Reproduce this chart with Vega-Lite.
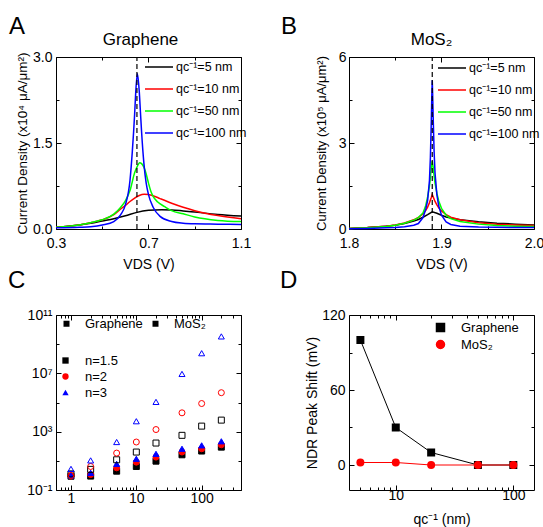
{
  "$schema": "https://vega.github.io/schema/vega-lite/v6.json",
  "padding": {"left": 8, "top": 14, "right": 5, "bottom": 3},
  "config": {
    "font": "Liberation Sans",
    "view": {"stroke": null},
    "axis": {"domainColor": "#000", "domainWidth": 1, "tickColor": "#000", "tickWidth": 1, "labelColor": "#000", "labelFontSize": 14, "labelFont": "Liberation Sans", "titleFont": "Liberation Sans", "titleFontSize": 14, "titleFontWeight": "normal", "titleColor": "#000", "grid": false, "labelFlush": false, "labelOverlap": false, "labelBound": false},
    "title": {"fontSize": 24, "fontWeight": "normal", "font": "Liberation Sans", "anchor": "start", "frame": "group", "color": "#000"},
    "legend": {"labelFont": "Liberation Sans", "labelColor": "#000"}
  },
  "resolve": {
    "scale": {"color": "independent", "fill": "independent", "stroke": "independent", "shape": "independent", "opacity": "independent"},
    "legend": {"color": "independent", "fill": "independent", "stroke": "independent", "shape": "independent", "opacity": "independent"}
  },
  "datasets": {
    "graphene": [
      {"qc": "5", "vds": 0.30, "j": 0.03}, {"qc": "5", "vds": 0.40, "j": 0.07}, {"qc": "5", "vds": 0.45, "j": 0.10}, {"qc": "5", "vds": 0.50, "j": 0.14}, {"qc": "5", "vds": 0.55, "j": 0.18}, {"qc": "5", "vds": 0.60, "j": 0.23}, {"qc": "5", "vds": 0.65, "j": 0.29}, {"qc": "5", "vds": 0.70, "j": 0.325}, {"qc": "5", "vds": 0.757, "j": 0.337}, {"qc": "5", "vds": 0.80, "j": 0.333}, {"qc": "5", "vds": 0.85, "j": 0.315}, {"qc": "5", "vds": 0.90, "j": 0.295}, {"qc": "5", "vds": 1.00, "j": 0.255}, {"qc": "5", "vds": 1.10, "j": 0.225},
      {"qc": "10", "vds": 0.30, "j": 0.03}, {"qc": "10", "vds": 0.40, "j": 0.07}, {"qc": "10", "vds": 0.45, "j": 0.11}, {"qc": "10", "vds": 0.50, "j": 0.16}, {"qc": "10", "vds": 0.55, "j": 0.25}, {"qc": "10", "vds": 0.58, "j": 0.35}, {"qc": "10", "vds": 0.60, "j": 0.41}, {"qc": "10", "vds": 0.62, "j": 0.48}, {"qc": "10", "vds": 0.64, "j": 0.54}, {"qc": "10", "vds": 0.66, "j": 0.585}, {"qc": "10", "vds": 0.681, "j": 0.605}, {"qc": "10", "vds": 0.70, "j": 0.60}, {"qc": "10", "vds": 0.72, "j": 0.58}, {"qc": "10", "vds": 0.75, "j": 0.53}, {"qc": "10", "vds": 0.80, "j": 0.45}, {"qc": "10", "vds": 0.85, "j": 0.38}, {"qc": "10", "vds": 0.90, "j": 0.32}, {"qc": "10", "vds": 1.00, "j": 0.235}, {"qc": "10", "vds": 1.10, "j": 0.18},
      {"qc": "50", "vds": 0.30, "j": 0.03}, {"qc": "50", "vds": 0.40, "j": 0.07}, {"qc": "50", "vds": 0.45, "j": 0.11}, {"qc": "50", "vds": 0.50, "j": 0.16}, {"qc": "50", "vds": 0.55, "j": 0.26}, {"qc": "50", "vds": 0.58, "j": 0.38}, {"qc": "50", "vds": 0.60, "j": 0.49}, {"qc": "50", "vds": 0.62, "j": 0.67}, {"qc": "50", "vds": 0.64, "j": 0.98}, {"qc": "50", "vds": 0.65, "j": 1.08}, {"qc": "50", "vds": 0.662, "j": 1.157}, {"qc": "50", "vds": 0.67, "j": 1.14}, {"qc": "50", "vds": 0.68, "j": 1.08}, {"qc": "50", "vds": 0.69, "j": 0.96}, {"qc": "50", "vds": 0.70, "j": 0.80}, {"qc": "50", "vds": 0.71, "j": 0.66}, {"qc": "50", "vds": 0.72, "j": 0.57}, {"qc": "50", "vds": 0.74, "j": 0.47}, {"qc": "50", "vds": 0.77, "j": 0.39}, {"qc": "50", "vds": 0.80, "j": 0.32}, {"qc": "50", "vds": 0.85, "j": 0.265}, {"qc": "50", "vds": 0.90, "j": 0.21}, {"qc": "50", "vds": 1.00, "j": 0.15}, {"qc": "50", "vds": 1.10, "j": 0.13},
      {"qc": "100", "vds": 0.30, "j": 0.02}, {"qc": "100", "vds": 0.40, "j": 0.03}, {"qc": "100", "vds": 0.45, "j": 0.04}, {"qc": "100", "vds": 0.50, "j": 0.07}, {"qc": "100", "vds": 0.55, "j": 0.13}, {"qc": "100", "vds": 0.58, "j": 0.25}, {"qc": "100", "vds": 0.60, "j": 0.42}, {"qc": "100", "vds": 0.62, "j": 0.85}, {"qc": "100", "vds": 0.63, "j": 1.35}, {"qc": "100", "vds": 0.64, "j": 2.0}, {"qc": "100", "vds": 0.645, "j": 2.4}, {"qc": "100", "vds": 0.652, "j": 2.71}, {"qc": "100", "vds": 0.66, "j": 2.4}, {"qc": "100", "vds": 0.665, "j": 2.05}, {"qc": "100", "vds": 0.67, "j": 1.7}, {"qc": "100", "vds": 0.68, "j": 1.15}, {"qc": "100", "vds": 0.69, "j": 0.8}, {"qc": "100", "vds": 0.70, "j": 0.6}, {"qc": "100", "vds": 0.72, "j": 0.38}, {"qc": "100", "vds": 0.75, "j": 0.22}, {"qc": "100", "vds": 0.80, "j": 0.13}, {"qc": "100", "vds": 0.85, "j": 0.10}, {"qc": "100", "vds": 0.90, "j": 0.09}, {"qc": "100", "vds": 1.00, "j": 0.085}, {"qc": "100", "vds": 1.10, "j": 0.08}
    ],
    "mos2": [
      {"qc": "5", "vds": 1.80, "j": 0.02}, {"qc": "5", "vds": 1.82, "j": 0.05}, {"qc": "5", "vds": 1.84, "j": 0.10}, {"qc": "5", "vds": 1.85, "j": 0.13}, {"qc": "5", "vds": 1.86, "j": 0.19}, {"qc": "5", "vds": 1.87, "j": 0.28}, {"qc": "5", "vds": 1.875, "j": 0.33}, {"qc": "5", "vds": 1.88, "j": 0.41}, {"qc": "5", "vds": 1.885, "j": 0.50}, {"qc": "5", "vds": 1.89, "j": 0.60}, {"qc": "5", "vds": 1.895, "j": 0.55}, {"qc": "5", "vds": 1.90, "j": 0.48}, {"qc": "5", "vds": 1.905, "j": 0.42}, {"qc": "5", "vds": 1.91, "j": 0.38}, {"qc": "5", "vds": 1.92, "j": 0.32}, {"qc": "5", "vds": 1.94, "j": 0.25}, {"qc": "5", "vds": 1.96, "j": 0.20}, {"qc": "5", "vds": 1.98, "j": 0.17}, {"qc": "5", "vds": 2.00, "j": 0.14},
      {"qc": "10", "vds": 1.80, "j": 0.02}, {"qc": "10", "vds": 1.82, "j": 0.05}, {"qc": "10", "vds": 1.84, "j": 0.10}, {"qc": "10", "vds": 1.85, "j": 0.14}, {"qc": "10", "vds": 1.86, "j": 0.21}, {"qc": "10", "vds": 1.87, "j": 0.32}, {"qc": "10", "vds": 1.875, "j": 0.40}, {"qc": "10", "vds": 1.88, "j": 0.53}, {"qc": "10", "vds": 1.883, "j": 0.65}, {"qc": "10", "vds": 1.885, "j": 0.76}, {"qc": "10", "vds": 1.887, "j": 0.92}, {"qc": "10", "vds": 1.889, "j": 1.10}, {"qc": "10", "vds": 1.89, "j": 1.21}, {"qc": "10", "vds": 1.891, "j": 1.12}, {"qc": "10", "vds": 1.893, "j": 0.96}, {"qc": "10", "vds": 1.895, "j": 0.84}, {"qc": "10", "vds": 1.897, "j": 0.74}, {"qc": "10", "vds": 1.90, "j": 0.63}, {"qc": "10", "vds": 1.905, "j": 0.50}, {"qc": "10", "vds": 1.91, "j": 0.41}, {"qc": "10", "vds": 1.92, "j": 0.32}, {"qc": "10", "vds": 1.94, "j": 0.22}, {"qc": "10", "vds": 1.96, "j": 0.17}, {"qc": "10", "vds": 1.98, "j": 0.14}, {"qc": "10", "vds": 2.00, "j": 0.12},
      {"qc": "50", "vds": 1.80, "j": 0.02}, {"qc": "50", "vds": 1.82, "j": 0.04}, {"qc": "50", "vds": 1.84, "j": 0.09}, {"qc": "50", "vds": 1.85, "j": 0.13}, {"qc": "50", "vds": 1.86, "j": 0.20}, {"qc": "50", "vds": 1.87, "j": 0.31}, {"qc": "50", "vds": 1.875, "j": 0.40}, {"qc": "50", "vds": 1.88, "j": 0.56}, {"qc": "50", "vds": 1.883, "j": 0.82}, {"qc": "50", "vds": 1.885, "j": 1.12}, {"qc": "50", "vds": 1.887, "j": 1.5}, {"qc": "50", "vds": 1.888, "j": 1.8}, {"qc": "50", "vds": 1.889, "j": 2.15}, {"qc": "50", "vds": 1.89, "j": 2.37}, {"qc": "50", "vds": 1.891, "j": 2.15}, {"qc": "50", "vds": 1.892, "j": 1.85}, {"qc": "50", "vds": 1.893, "j": 1.6}, {"qc": "50", "vds": 1.895, "j": 1.25}, {"qc": "50", "vds": 1.897, "j": 0.98}, {"qc": "50", "vds": 1.90, "j": 0.72}, {"qc": "50", "vds": 1.905, "j": 0.48}, {"qc": "50", "vds": 1.91, "j": 0.36}, {"qc": "50", "vds": 1.92, "j": 0.26}, {"qc": "50", "vds": 1.94, "j": 0.17}, {"qc": "50", "vds": 1.96, "j": 0.12}, {"qc": "50", "vds": 1.98, "j": 0.10}, {"qc": "50", "vds": 2.00, "j": 0.09},
      {"qc": "100", "vds": 1.80, "j": 0.01}, {"qc": "100", "vds": 1.82, "j": 0.02}, {"qc": "100", "vds": 1.84, "j": 0.04}, {"qc": "100", "vds": 1.85, "j": 0.05}, {"qc": "100", "vds": 1.86, "j": 0.08}, {"qc": "100", "vds": 1.87, "j": 0.13}, {"qc": "100", "vds": 1.875, "j": 0.19}, {"qc": "100", "vds": 1.88, "j": 0.40}, {"qc": "100", "vds": 1.883, "j": 0.70}, {"qc": "100", "vds": 1.885, "j": 1.0}, {"qc": "100", "vds": 1.887, "j": 1.7}, {"qc": "100", "vds": 1.888, "j": 2.5}, {"qc": "100", "vds": 1.889, "j": 3.8}, {"qc": "100", "vds": 1.8895, "j": 4.6}, {"qc": "100", "vds": 1.89, "j": 5.19}, {"qc": "100", "vds": 1.8905, "j": 4.6}, {"qc": "100", "vds": 1.891, "j": 3.9}, {"qc": "100", "vds": 1.892, "j": 2.7}, {"qc": "100", "vds": 1.893, "j": 1.95}, {"qc": "100", "vds": 1.895, "j": 1.2}, {"qc": "100", "vds": 1.897, "j": 0.8}, {"qc": "100", "vds": 1.90, "j": 0.48}, {"qc": "100", "vds": 1.905, "j": 0.25}, {"qc": "100", "vds": 1.91, "j": 0.16}, {"qc": "100", "vds": 1.92, "j": 0.10}, {"qc": "100", "vds": 1.94, "j": 0.07}, {"qc": "100", "vds": 1.96, "j": 0.06}, {"qc": "100", "vds": 1.98, "j": 0.05}, {"qc": "100", "vds": 2.00, "j": 0.05}
    ],
    "scaling": [
      {"mat": "Graphene", "n": "1.5", "x": 1, "y": 0.88}, {"mat": "Graphene", "n": "1.5", "x": 2, "y": 0.9}, {"mat": "Graphene", "n": "1.5", "x": 5, "y": 1.95}, {"mat": "Graphene", "n": "1.5", "x": 10, "y": 4.1}, {"mat": "Graphene", "n": "1.5", "x": 20, "y": 9.5}, {"mat": "Graphene", "n": "1.5", "x": 50, "y": 26}, {"mat": "Graphene", "n": "1.5", "x": 100, "y": 47}, {"mat": "Graphene", "n": "1.5", "x": 200, "y": 87},
      {"mat": "Graphene", "n": "2", "x": 1, "y": 0.9}, {"mat": "Graphene", "n": "2", "x": 2, "y": 1.15}, {"mat": "Graphene", "n": "2", "x": 5, "y": 3.3}, {"mat": "Graphene", "n": "2", "x": 10, "y": 8.1}, {"mat": "Graphene", "n": "2", "x": 20, "y": 18}, {"mat": "Graphene", "n": "2", "x": 50, "y": 40}, {"mat": "Graphene", "n": "2", "x": 100, "y": 67}, {"mat": "Graphene", "n": "2", "x": 200, "y": 126},
      {"mat": "Graphene", "n": "3", "x": 1, "y": 1.0}, {"mat": "Graphene", "n": "3", "x": 2, "y": 1.5}, {"mat": "Graphene", "n": "3", "x": 5, "y": 6.2}, {"mat": "Graphene", "n": "3", "x": 10, "y": 13.8}, {"mat": "Graphene", "n": "3", "x": 20, "y": 30}, {"mat": "Graphene", "n": "3", "x": 50, "y": 67}, {"mat": "Graphene", "n": "3", "x": 100, "y": 115}, {"mat": "Graphene", "n": "3", "x": 200, "y": 218},
      {"mat": "MoS₂", "n": "1.5", "x": 1, "y": 1.27}, {"mat": "MoS₂", "n": "1.5", "x": 2, "y": 2.6}, {"mat": "MoS₂", "n": "1.5", "x": 5, "y": 11.8}, {"mat": "MoS₂", "n": "1.5", "x": 10, "y": 40}, {"mat": "MoS₂", "n": "1.5", "x": 20, "y": 166}, {"mat": "MoS₂", "n": "1.5", "x": 50, "y": 560}, {"mat": "MoS₂", "n": "1.5", "x": 100, "y": 2400}, {"mat": "MoS₂", "n": "1.5", "x": 200, "y": 6200},
      {"mat": "MoS₂", "n": "2", "x": 1, "y": 1.0}, {"mat": "MoS₂", "n": "2", "x": 2, "y": 4.1}, {"mat": "MoS₂", "n": "2", "x": 5, "y": 34}, {"mat": "MoS₂", "n": "2", "x": 10, "y": 195}, {"mat": "MoS₂", "n": "2", "x": 20, "y": 1400}, {"mat": "MoS₂", "n": "2", "x": 50, "y": 19600}, {"mat": "MoS₂", "n": "2", "x": 100, "y": 85000}, {"mat": "MoS₂", "n": "2", "x": 200, "y": 470000},
      {"mat": "MoS₂", "n": "3", "x": 1, "y": 2.8}, {"mat": "MoS₂", "n": "3", "x": 2, "y": 10.7}, {"mat": "MoS₂", "n": "3", "x": 5, "y": 195}, {"mat": "MoS₂", "n": "3", "x": 10, "y": 5200}, {"mat": "MoS₂", "n": "3", "x": 20, "y": 110000}, {"mat": "MoS₂", "n": "3", "x": 50, "y": 9100000}, {"mat": "MoS₂", "n": "3", "x": 100, "y": 240000000}, {"mat": "MoS₂", "n": "3", "x": 200, "y": 3400000000}
    ],
    "shift": [
      {"mat": "Graphene", "q": 5, "shift": 100}, {"mat": "Graphene", "q": 10, "shift": 30}, {"mat": "Graphene", "q": 20, "shift": 10}, {"mat": "Graphene", "q": 50, "shift": 0}, {"mat": "Graphene", "q": 100, "shift": 0},
      {"mat": "MoS₂", "q": 5, "shift": 2}, {"mat": "MoS₂", "q": 10, "shift": 2}, {"mat": "MoS₂", "q": 20, "shift": 0}, {"mat": "MoS₂", "q": 50, "shift": 0}, {"mat": "MoS₂", "q": 100, "shift": 0}
    ]
  },
  "columns": 2,
  "spacing": {"row": 86, "column": 108},
  "bounds": "flush",
  "concat": [
    {
      "width": 185, "height": 172,
      "title": {"text": "A", "dx": -47, "offset": -8},
      "data": {"name": "graphene"},
      "resolve": {"axis": {"x": "independent", "y": "independent"}},
      "layer": [
        {
          "mark": {"type": "line", "strokeWidth": 1.5, "interpolate": "monotone"},
          "encoding": {
            "x": {"field": "vds", "type": "quantitative", "scale": {"domain": [0.3, 1.1], "nice": false, "zero": false},
              "axis": {"orient": "bottom", "values": [0.3, 0.5, 0.7, 0.9, 1.1], "labelExpr": "datum.value == 0.5 || datum.value == 0.9 ? '' : format(datum.value, '.1f')", "tickSize": {"condition": {"test": "datum.value == 0.5 || datum.value == 0.9", "value": -3}, "value": -5}, "labelPadding": 12, "title": "VDS (V)", "titlePadding": 5}},
            "y": {"field": "j", "type": "quantitative", "scale": {"domain": [0, 3], "nice": false, "zero": false},
              "axis": {"orient": "left", "values": [0, 0.75, 1.5, 2.25, 3], "labelExpr": "datum.value == 0.75 || datum.value == 2.25 ? '' : format(datum.value, '.1f')", "tickSize": {"condition": {"test": "datum.value == 0.75 || datum.value == 2.25", "value": -3}, "value": -5}, "labelPadding": 9, "title": "Current Density (x10⁴ μA/μm²)", "titleFontSize": 13.5, "titlePadding": 3}},
            "color": {"field": "qc", "type": "nominal", "scale": {"domain": ["5", "10", "50", "100"], "range": ["#000000", "#ff0000", "#00ff00", "#0000ff"]},
              "legend": {"orient": "none", "legendX": 91, "legendY": -2, "title": null, "symbolType": "M-1.3,0H1.3", "symbolSize": 466, "symbolStrokeWidth": 1.5, "labelFontSize": 12.5, "labelOffset": 5, "rowPadding": 3, "padding": 0, "labelExpr": "'qc⁻¹=' + datum.label + ' nm'"}}
          }
        },
        {
          "data": {"values": [{"vds": 0.65}]},
          "mark": {"type": "rule", "strokeDash": [5, 3], "strokeWidth": 1.2, "color": "#000"},
          "encoding": {
            "x": {"field": "vds", "type": "quantitative", "scale": {"domain": [0.3, 1.1], "nice": false, "zero": false},
              "axis": {"orient": "top", "values": [0.3, 0.5, 0.7, 0.9, 1.1], "labels": false, "tickSize": {"condition": {"test": "datum.value == 0.5 || datum.value == 0.9", "value": -3}, "value": -5}, "title": "Graphene", "titleFontSize": 17, "titlePadding": 8, "titleX": 84}},
            "y": {"datum": 0, "type": "quantitative", "scale": {"domain": [0, 3], "nice": false, "zero": false},
              "axis": {"orient": "right", "values": [0, 0.75, 1.5, 2.25, 3], "labels": false, "tickSize": {"condition": {"test": "datum.value == 0.75 || datum.value == 2.25", "value": -3}, "value": -5}, "title": null}},
            "y2": {"datum": 3}
          }
        }
      ]
    },
    {
      "width": 185, "height": 172,
      "title": {"text": "B", "dx": -68, "offset": -8},
      "data": {"name": "mos2"},
      "resolve": {"axis": {"x": "independent", "y": "independent"}},
      "layer": [
        {
          "mark": {"type": "line", "strokeWidth": 1.5},
          "encoding": {
            "x": {"field": "vds", "type": "quantitative", "scale": {"domain": [1.8, 2.0], "nice": false, "zero": false},
              "axis": {"orient": "bottom", "values": [1.8, 1.85, 1.9, 1.95, 2.0], "labelExpr": "datum.value == 1.85 || datum.value == 1.95 ? '' : format(datum.value, '.1f')", "tickSize": {"condition": {"test": "datum.value == 1.85 || datum.value == 1.95", "value": -3}, "value": -5}, "labelPadding": 12, "title": "VDS (V)", "titlePadding": 5}},
            "y": {"field": "j", "type": "quantitative", "scale": {"domain": [0, 6], "nice": false, "zero": false},
              "axis": {"orient": "left", "values": [0, 1.5, 3, 4.5, 6], "labelExpr": "datum.value == 1.5 || datum.value == 4.5 ? '' : format(datum.value, 'd')", "tickSize": {"condition": {"test": "datum.value == 1.5 || datum.value == 4.5", "value": -3}, "value": -5}, "labelPadding": 8, "title": "Current Density (x10⁵ μA/μm²)", "titleFontSize": 13, "titlePadding": 10}},
            "color": {"field": "qc", "type": "nominal", "scale": {"domain": ["5", "10", "50", "100"], "range": ["#000000", "#ff0000", "#00ff00", "#0000ff"]},
              "legend": {"orient": "none", "legendX": 91, "legendY": -1, "title": null, "symbolType": "M-1.3,0H1.3", "symbolSize": 466, "symbolStrokeWidth": 1.5, "labelFontSize": 12.5, "labelOffset": 5, "rowPadding": 3, "padding": 0, "labelExpr": "'qc⁻¹=' + datum.label + ' nm'"}}
          }
        },
        {
          "data": {"values": [{"vds": 1.89}]},
          "mark": {"type": "rule", "strokeDash": [5, 3], "strokeWidth": 1.2, "color": "#000"},
          "encoding": {
            "x": {"field": "vds", "type": "quantitative", "scale": {"domain": [1.8, 2.0], "nice": false, "zero": false},
              "axis": {"orient": "top", "values": [1.8, 1.85, 1.9, 1.95, 2.0], "labels": false, "tickSize": {"condition": {"test": "datum.value == 1.85 || datum.value == 1.95", "value": -3}, "value": -5}, "title": "MoS₂", "titleFontSize": 17, "titlePadding": 8, "titleX": 82}},
            "y": {"datum": 0, "type": "quantitative", "scale": {"domain": [0, 6], "nice": false, "zero": false},
              "axis": {"orient": "right", "values": [0, 1.5, 3, 4.5, 6], "labels": false, "tickSize": {"condition": {"test": "datum.value == 1.5 || datum.value == 4.5", "value": -3}, "value": -5}, "title": null}},
            "y2": {"datum": 6}
          }
        }
      ]
    },
    {
      "width": 185, "height": 175,
      "title": {"text": "C", "dx": -48, "offset": 15},
      "data": {"name": "scaling"},
      "resolve": {"axis": {"x": "independent", "y": "independent"}},
      "encoding": {
        "shape": {"field": "n", "type": "nominal", "scale": {"domain": ["1.5", "2", "3"], "range": ["square", "circle", "triangle-up"]},
          "legend": {"orient": "none", "legendX": 3, "legendY": 39, "title": null, "labelExpr": "'n=' + datum.label", "symbolSize": 40, "labelFontSize": 13, "labelOffset": 13, "rowPadding": 2, "padding": 0, "symbolStrokeWidth": 0, "symbolOpacity": 1}},
        "fill": {"field": "n", "type": "nominal", "scale": {"domain": ["1.5", "2", "3"], "range": ["#000000", "#ff0000", "#0000ff"]},
          "legend": {"orient": "none", "legendX": 3, "legendY": 39, "title": null, "labelExpr": "'n=' + datum.label", "symbolSize": 40, "labelFontSize": 13, "labelOffset": 13, "rowPadding": 2, "padding": 0, "symbolStrokeWidth": 0, "symbolOpacity": 1}},
        "stroke": {"field": "n", "type": "nominal", "scale": {"domain": ["1.5", "2", "3"], "range": ["#000000", "#ff0000", "#0000ff"]}, "legend": null},
        "opacity": {"field": "mat", "type": "nominal", "scale": {"domain": ["Graphene", "MoS₂"], "range": [1, 1]},
          "legend": {"orient": "none", "legendX": 4, "legendY": 2, "direction": "horizontal", "columns": 2, "title": null, "symbolType": "square", "symbolSize": 36, "labelFontSize": 13, "labelOffset": 12, "columnPadding": 6, "padding": 0, "symbolOpacity": 1}}
      },
      "layer": [
        {
          "transform": [{"filter": "datum.mat == 'Graphene'"}],
          "mark": {"type": "point", "filled": true, "size": 36, "strokeWidth": 1},
          "encoding": {
            "x": {"field": "x", "type": "quantitative", "scale": {"type": "log", "domain": [0.59, 400], "nice": false},
              "axis": {"orient": "bottom", "values": [0.6, 0.7, 0.8, 0.9, 1, 2, 3, 4, 5, 6, 7, 8, 9, 10, 20, 30, 40, 50, 60, 70, 80, 90, 100, 200, 300, 400], "labelExpr": "datum.value == 1 || datum.value == 10 || datum.value == 100 ? format(datum.value, 'd') : ''", "tickSize": {"condition": {"test": "datum.value == 1 || datum.value == 10 || datum.value == 100", "value": -5}, "value": -3}, "labelPadding": 6, "title": null}},
            "y": {"field": "y", "type": "quantitative", "scale": {"type": "log", "domain": [0.1, 100000000000], "nice": false},
              "axis": {"orient": "left", "values": [0.1, 10, 1000, 100000, 10000000, 1000000000, 100000000000], "labelExpr": "datum.value == 0.1 ? '10⁻¹' : datum.value == 1000 ? '10³' : datum.value == 10000000 ? '10⁷' : datum.value == 100000000000 ? '10¹¹' : ''", "tickSize": {"condition": {"test": "datum.value == 10 || datum.value == 100000 || datum.value == 1000000000", "value": -3}, "value": -5}, "labelPadding": 9, "title": null}}
          }
        },
        {
          "transform": [{"filter": "datum.mat != 'Graphene'"}],
          "mark": {"type": "point", "filled": true, "fillOpacity": 0, "size": 36, "strokeWidth": 1},
          "encoding": {
            "x": {"field": "x", "type": "quantitative", "scale": {"type": "log", "domain": [0.59, 400], "nice": false},
              "axis": {"orient": "top", "values": [0.6, 0.7, 0.8, 0.9, 1, 2, 3, 4, 5, 6, 7, 8, 9, 10, 20, 30, 40, 50, 60, 70, 80, 90, 100, 200, 300, 400], "labels": false, "tickSize": {"condition": {"test": "datum.value == 1 || datum.value == 10 || datum.value == 100", "value": -5}, "value": -3}, "title": null}},
            "y": {"field": "y", "type": "quantitative", "scale": {"type": "log", "domain": [0.1, 100000000000], "nice": false},
              "axis": {"orient": "right", "values": [0.1, 10, 1000, 100000, 10000000, 1000000000, 100000000000], "labels": false, "tickSize": {"condition": {"test": "datum.value == 10 || datum.value == 100000 || datum.value == 1000000000", "value": -3}, "value": -5}, "title": null}}
          }
        }
      ]
    },
    {
      "width": 185, "height": 175,
      "title": {"text": "D", "dx": -69, "offset": 15},
      "data": {"name": "shift"},
      "resolve": {"axis": {"x": "independent", "y": "independent"}},
      "encoding": {
        "color": {"field": "mat", "type": "nominal", "scale": {"domain": ["Graphene", "MoS₂"], "range": ["#000000", "#ff0000"]},
          "legend": {"orient": "none", "legendX": 85, "legendY": 6, "title": null, "symbolSize": 64, "labelFontSize": 13, "labelOffset": 14, "rowPadding": 2, "padding": 0, "symbolOpacity": 1}}
      },
      "layer": [
        {
          "mark": {"type": "line", "strokeWidth": 1},
          "encoding": {
            "x": {"field": "q", "type": "quantitative", "scale": {"type": "log", "domain": [4, 150], "nice": false},
              "axis": {"orient": "bottom", "values": [5, 6, 7, 8, 9, 10, 20, 30, 40, 50, 60, 70, 80, 90, 100], "labelExpr": "datum.value == 10 || datum.value == 100 ? format(datum.value, 'd') : ''", "tickSize": {"condition": {"test": "datum.value == 10 || datum.value == 100", "value": -5}, "value": -3}, "labelPadding": 3, "title": "qc⁻¹ (nm)", "titlePadding": 8}},
            "y": {"field": "shift", "type": "quantitative", "scale": {"domain": [-20, 120], "nice": false, "zero": false},
              "axis": {"orient": "left", "values": [0, 30, 60, 90, 120], "labelExpr": "datum.value == 30 || datum.value == 90 ? '' : format(datum.value, 'd')", "tickSize": {"condition": {"test": "datum.value == 30 || datum.value == 90", "value": -3}, "value": -5}, "labelPadding": 9, "title": "NDR Peak Shift (mV)", "titlePadding": 2}}
          }
        },
        {
          "mark": {"type": "point", "filled": true, "opacity": 1, "size": 64},
          "encoding": {
            "x": {"field": "q", "type": "quantitative", "scale": {"type": "log", "domain": [4, 150], "nice": false},
              "axis": {"orient": "top", "values": [5, 6, 7, 8, 9, 10, 20, 30, 40, 50, 60, 70, 80, 90, 100], "labels": false, "tickSize": {"condition": {"test": "datum.value == 10 || datum.value == 100", "value": -5}, "value": -3}, "title": null}},
            "y": {"field": "shift", "type": "quantitative", "scale": {"domain": [-20, 120], "nice": false, "zero": false},
              "axis": {"orient": "right", "values": [0, 30, 60, 90, 120], "labels": false, "tickSize": {"condition": {"test": "datum.value == 30 || datum.value == 90", "value": -3}, "value": -5}, "title": null}},
            "shape": {"field": "mat", "type": "nominal", "scale": {"domain": ["Graphene", "MoS₂"], "range": ["square", "circle"]},
              "legend": {"orient": "none", "legendX": 85, "legendY": 6, "title": null, "symbolSize": 64, "labelFontSize": 13, "labelOffset": 14, "rowPadding": 2, "padding": 0, "symbolOpacity": 1}}
          }
        }
      ]
    }
  ]
}
